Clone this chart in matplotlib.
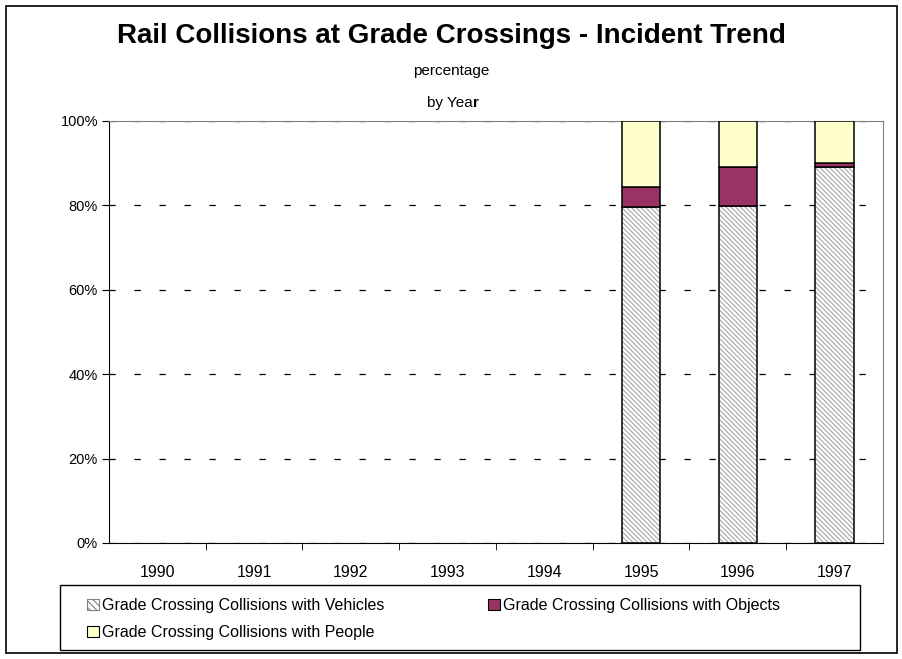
import numpy as np
import matplotlib
matplotlib.use("Agg")
import matplotlib.pyplot as plt
from matplotlib.patches import Rectangle, Patch

plt.rcParams['font.family'] = ['Liberation Sans', 'DejaVu Sans']
plt.rcParams['hatch.linewidth'] = 0.8

# data (percent of incidents by year)
years = ['1990', '1991', '1992', '1993', '1994', '1995', '1996', '1997']
vehicles = [0, 0, 0, 0, 0, 79.6, 79.9, 89.2]
objects_ = [0, 0, 0, 0, 0, 4.8, 9.1, 0.9]
people = [0, 0, 0, 0, 0, 15.6, 11.0, 9.9]
labels = ['Grade Crossing Collisions with Vehicles',
          'Grade Crossing Collisions with Objects',
          'Grade Crossing Collisions with People']

HATCH = '\\' * 7
HATCH_COL = '#a6a6a6'

fig = plt.figure(figsize=(9.03, 6.59), dpi=100)
# outer chart border
fig.patches.append(Rectangle((6 / 903, 6 / 659), 891 / 903, 647 / 659, transform=fig.transFigure,
                             fill=False, edgecolor='black', linewidth=1.2))

ax = fig.add_axes([109 / 903, (659 - 543) / 659, 774 / 903, 422 / 659])

x = np.arange(len(years))
has = [i for i in x if vehicles[i] + objects_[i] + people[i] > 0]
v = np.array(vehicles)
o = np.array(objects_)
p = np.array(people)
w = 0.4
# hatched fill first, outline on top
ax.bar(x[has], v[has], w, color='white', edgecolor=HATCH_COL, hatch=HATCH, linewidth=0, zorder=3)
ax.bar(x[has], v[has], w, fill=False, edgecolor='black', linewidth=1.1, zorder=4)
ax.bar(x[has], o[has], w, bottom=v[has], color='#993366', edgecolor='black', linewidth=1.1, zorder=4)
ax.bar(x[has], p[has], w, bottom=v[has] + o[has], color='#FFFFCC', edgecolor='black', linewidth=1.1, zorder=4)

ax.set_xlim(-0.5, len(years) - 0.5)
ax.set_ylim(0, 100)
ax.set_yticks([0, 20, 40, 60, 80, 100])
ax.set_yticklabels(['0%', '20%', '40%', '60%', '80%', '100%'], fontsize=10.5)
ax.set_xticks(x)
ax.set_xticklabels(years, fontsize=11.5)
ax.set_xticks(np.arange(len(years) - 1) + 0.5, minor=True)
ax.tick_params(axis='x', which='major', length=0, pad=16)
ax.tick_params(axis='x', which='minor', length=5, direction='out', color='black')
ax.tick_params(axis='y', length=5, direction='out', color='black', pad=3)
ax.yaxis.grid(True, linestyle=(0, (5, 15)), color='black', linewidth=0.9, zorder=0)
ax.set_axisbelow(True)
ax.spines['top'].set_color('#808080')
ax.spines['right'].set_color('#808080')
ax.spines['left'].set_color('black')
ax.spines['bottom'].set_color('black')

fig.text(451 / 903, 1 - 36 / 659, 'Rail Collisions at Grade Crossings - Incident Trend',
         ha='center', va='center', fontsize=20, fontweight='bold')
fig.text(451 / 903, 1 - 71 / 659, 'percentage', ha='center', va='center', fontsize=11)
fig.text(473 / 903, 1 - 103 / 659, 'by Yea', ha='right', va='center', fontsize=11)
fig.text(473 / 903, 1 - 103 / 659, 'r', ha='left', va='center', fontsize=11, fontweight='bold')

# legend box drawn by hand, entries laid out row-wise
fig.patches.append(Rectangle((60 / 903, 1 - 650 / 659), 800 / 903, 65 / 659, transform=fig.transFigure,
                             fill=False, edgecolor='black', linewidth=1.0))
h_veh = Patch(facecolor='white', edgecolor='#808080', hatch='\\' * 5, linewidth=0.8)
h_obj = Patch(facecolor='#993366', edgecolor='black', linewidth=0.8)
h_ppl = Patch(facecolor='#FFFFCC', edgecolor='black', linewidth=0.8)
leg = fig.legend([h_veh, h_ppl, h_obj], [labels[0], labels[2], labels[1]],
                 loc='upper left', bbox_to_anchor=(87 / 903, 1 - 598 / 659),
                 ncol=2, fontsize=11.5, frameon=False,
                 handlelength=0.75, handleheight=0.75, handletextpad=0.2, columnspacing=6.45,
                 borderpad=0, labelspacing=0.76, borderaxespad=0)

fig.savefig('out.png', dpi=100)
